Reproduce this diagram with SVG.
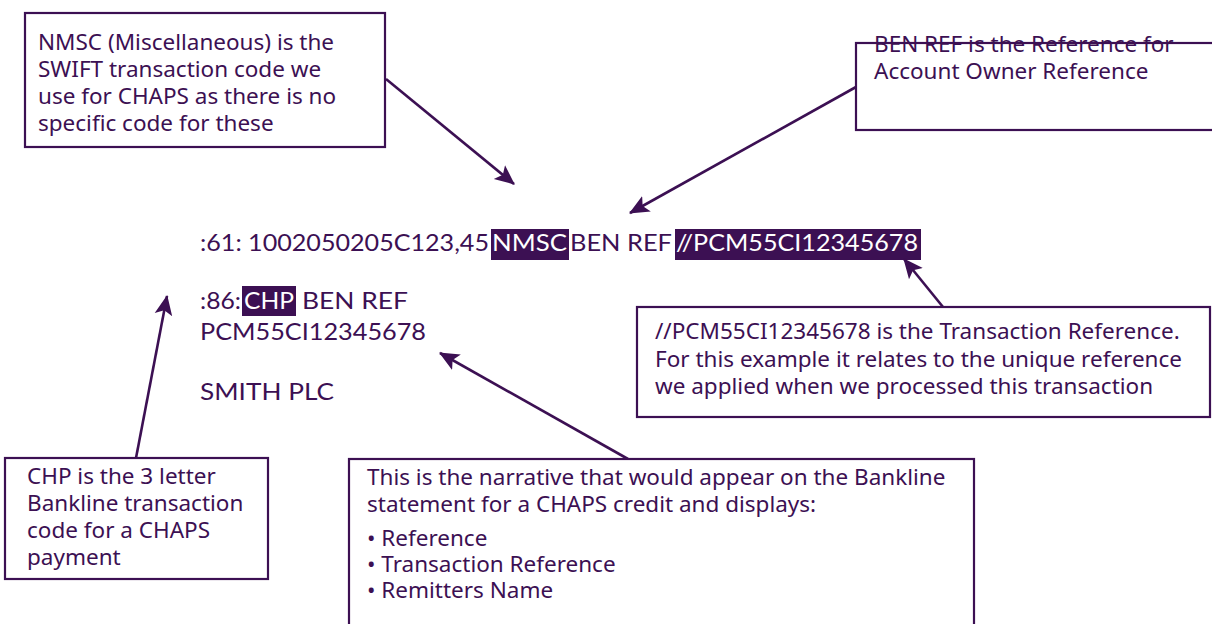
<svg xmlns="http://www.w3.org/2000/svg" width="1212" height="624" viewBox="0 0 1212 624">
<style>
.box{fill:#fff;stroke:#3c1053;stroke-width:2.2}
.t{font-family:"Noto Sans",Lato,sans-serif;font-size:22.5px;fill:#3c1053}
.m{font-family:Lato,"Noto Sans",sans-serif;font-size:23px;fill:#3c1053}
.w{fill:#fff}
.hl{fill:#3c1053}
.c{stroke:#3c1053;stroke-width:2.6;fill:none;marker-end:url(#ah)}
</style>
<defs>
<marker id="ah" markerUnits="userSpaceOnUse" markerWidth="20" markerHeight="20" refX="17" refY="8" orient="auto" viewBox="0 0 18 16">
<path d="M0,0 L18,8 L0,16 L4,8 Z" fill="#3c1053"/>
</marker>
</defs>
<rect width="1212" height="624" fill="#fff"/>

<g id="codes">
<text class="m" x="200" y="251" textLength="289" lengthAdjust="spacingAndGlyphs">:61: 1002050205C123,45</text>
<rect class="hl" x="491" y="229" width="78" height="31"/>
<text class="m w" x="492" y="251" textLength="75" lengthAdjust="spacingAndGlyphs">NMSC</text>
<text class="m" x="570" y="251" textLength="102" lengthAdjust="spacingAndGlyphs">BEN REF</text>
<rect class="hl" x="675" y="229" width="246" height="31"/>
<text class="m w" x="676" y="251" textLength="242" lengthAdjust="spacingAndGlyphs">//PCM55CI12345678</text>
<text class="m" x="200" y="309" textLength="41" lengthAdjust="spacingAndGlyphs">:86:</text>
<rect class="hl" x="242" y="286" width="54" height="30"/>
<text class="m w" x="244" y="309" textLength="50" lengthAdjust="spacingAndGlyphs">CHP</text>
<text class="m" x="302" y="309" textLength="106" lengthAdjust="spacingAndGlyphs">BEN REF</text>
<text class="m" x="200" y="340" textLength="226" lengthAdjust="spacingAndGlyphs">PCM55CI12345678</text>
<text class="m" x="200" y="400" textLength="134" lengthAdjust="spacingAndGlyphs">SMITH PLC</text>
</g>

<g id="connectors">
<line class="c" x1="386" y1="79" x2="514" y2="184"/>
<line class="c" x1="856" y1="87" x2="630" y2="213"/>
<line class="c" x1="136" y1="458" x2="167" y2="296"/>
<line class="c" x1="628" y1="459" x2="440" y2="353"/>
<line class="c" x1="943" y1="307" x2="904" y2="259"/>
</g>

<g id="node-nmsc">
<rect class="box" x="25" y="13" width="360" height="134"/>
<text class="t" x="38" y="50">NMSC (Miscellaneous) is the</text>
<text class="t" x="38" y="77">SWIFT transaction code we</text>
<text class="t" x="38" y="104">use for CHAPS as there is no</text>
<text class="t" x="38" y="131">specific code for these</text>
</g>

<g id="node-benref">
<rect class="box" x="856" y="43" width="360" height="87"/>
<text class="t" x="874" y="52">BEN REF is the Reference for</text>
<text class="t" x="874" y="79">Account Owner Reference</text>
</g>

<g id="node-transref">
<rect class="box" x="637" y="307" width="573" height="110"/>
<text class="t" x="655" y="339">//PCM55CI12345678 is the Transaction Reference.</text>
<text class="t" x="655" y="367">For this example it relates to the unique reference</text>
<text class="t" x="655" y="394">we applied when we processed this transaction</text>
</g>

<g id="node-chp">
<rect class="box" x="5" y="458" width="263" height="121"/>
<text class="t" x="27" y="484">CHP is the 3 letter</text>
<text class="t" x="27" y="511">Bankline transaction</text>
<text class="t" x="27" y="538">code for a CHAPS</text>
<text class="t" x="27" y="565">payment</text>
</g>

<g id="node-narrative">
<rect class="box" x="349" y="459" width="625" height="170"/>
<text class="t" x="367" y="485">This is the narrative that would appear on the Bankline</text>
<text class="t" x="367" y="512">statement for a CHAPS credit and displays:</text>
<text class="t" x="367" y="546">• Reference</text>
<text class="t" x="367" y="572">• Transaction Reference</text>
<text class="t" x="367" y="598">• Remitters Name</text>
</g>
</svg>
